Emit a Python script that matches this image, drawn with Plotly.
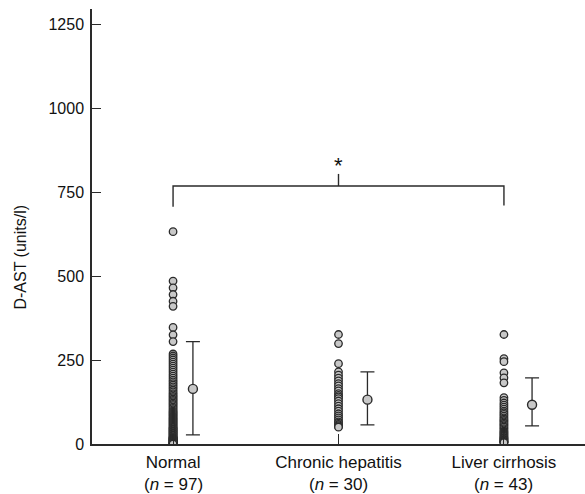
import plotly.graph_objects as go

categories = ["Normal", "Chronic hepatitis", "Liver cirrhosis"]
n_labels = ["97", "30", "43"]

normal_vals = [632, 485, 465, 445, 425, 410, 347, 325, 305,
               268, 262, 256, 250, 244, 238, 232, 226, 220, 214,
               208, 202, 196, 190, 185, 180, 175, 170, 165, 160,
               155, 150, 146, 142, 138, 134, 130, 126, 122, 118,
               114, 110, 106, 102, 98, 95, 92, 89, 86, 83,
               80, 77, 74, 71, 68, 65, 62, 59, 56, 53,
               50, 48, 46, 44, 42, 40, 38, 36, 34, 32,
               30, 28, 26, 24, 22, 20, 19, 18, 17, 16,
               15, 14, 13, 12, 11, 10, 9, 8, 7, 6,
               5, 4, 3, 2, 1, 1, 0, 0]
chronic_vals = [326, 299, 239, 215, 205, 196, 188, 180, 173, 165,
                158, 150, 145, 140, 135, 128, 120, 113, 105, 98,
                90, 84, 78, 72, 66, 62, 58, 55, 52, 50]
cirrhosis_vals = [326, 254, 245, 212, 197, 182, 138, 130, 122, 116,
                  110, 104, 98, 93, 88, 83, 78, 74, 70, 66,
                  62, 58, 54, 50, 46, 42, 38, 35, 32, 29,
                  26, 23, 20, 18, 16, 14, 12, 10, 8, 7,
                  6, 5, 4]

means = [164, 132, 117]
upper = [305, 215, 197]
lower = [27, 57, 54]
mean_offsets = [0.12, 0.175, 0.17]

y_ticks = [0, 250, 500, 750, 1000, 1250]
bracket_top = 768
bracket_ends = [706, 710]
bracket_mid_top = 804
star_y = 828

line_col = "#2a2a2a"
fill_col = "#c8c8c8"
fam = "Liberation Sans, Arial, sans-serif"
font = dict(family=fam, size=16, color="#111")
xfont = dict(family=fam, size=17, color="#111")

fig = go.Figure()
groups = [normal_vals, chronic_vals, cirrhosis_vals]
for i, vals in enumerate(groups):
    fig.add_trace(go.Scatter(
        x=[i] * len(vals), y=vals, mode="markers",
        marker=dict(symbol="circle", size=7.5, color=fill_col,
                    line=dict(color=line_col, width=1.3)),
        showlegend=False, hoverinfo="y"))

mx = [i + o for i, o in enumerate(mean_offsets)]
fig.add_trace(go.Scatter(
    x=mx, y=means, mode="markers",
    marker=dict(symbol="circle", size=9, color=fill_col,
                line=dict(color=line_col, width=1.4)),
    error_y=dict(type="data", symmetric=False,
                 array=[u - m for u, m in zip(upper, means)],
                 arrayminus=[m - l for m, l in zip(means, lower)],
                 color=line_col, thickness=1.3, width=7),
    showlegend=False))

# significance bracket
fig.add_shape(type="path",
              path=f"M 0,{bracket_ends[0]} L 0,{bracket_top} L 2,{bracket_top} L 2,{bracket_ends[1]}",
              line=dict(color=line_col, width=1.4), xref="x", yref="y")
fig.add_shape(type="line", x0=1, x1=1, y0=bracket_top, y1=bracket_mid_top,
              line=dict(color=line_col, width=1.4), xref="x", yref="y")
fig.add_annotation(x=1, y=star_y, text="*", showarrow=False,
                   font=dict(family=fam, size=22, color="#111"))

fig.add_annotation(xref="paper", x=0, xshift=-71, xanchor="center",
                   yref="y", y=555, yanchor="middle",
                   text="D-AST (units/l)", textangle=-90, showarrow=False,
                   font=font)

for i, n in enumerate(n_labels):
    fig.add_annotation(xref="x", x=i, yref="paper", y=0, yanchor="middle",
                       yshift=-40, text=f"(<i>n</i> = {n})", showarrow=False,
                       font=xfont)

fig.update_xaxes(range=[-0.49, 2.49], tickvals=[0, 1, 2], ticktext=categories,
                 ticks="inside", ticklen=10, tickwidth=1.3, tickcolor=line_col,
                 showline=True, linecolor=line_col, linewidth=1.5,
                 showgrid=False, zeroline=False, tickfont=xfont,
                 ticklabelstandoff=2)
fig.update_yaxes(range=[0, 1295], tickvals=y_ticks,
                 ticks="inside", ticklen=9, tickwidth=1.3, tickcolor=line_col,
                 showline=True, linecolor=line_col, linewidth=1.5,
                 showgrid=False, zeroline=False, tickfont=font,
                 ticklabelstandoff=3)

fig.update_layout(width=585, height=494,
                  margin=dict(l=92, r=0, t=9, b=50),
                  paper_bgcolor="white", plot_bgcolor="white",
                  font=font)

fig.write_html("out.html")
